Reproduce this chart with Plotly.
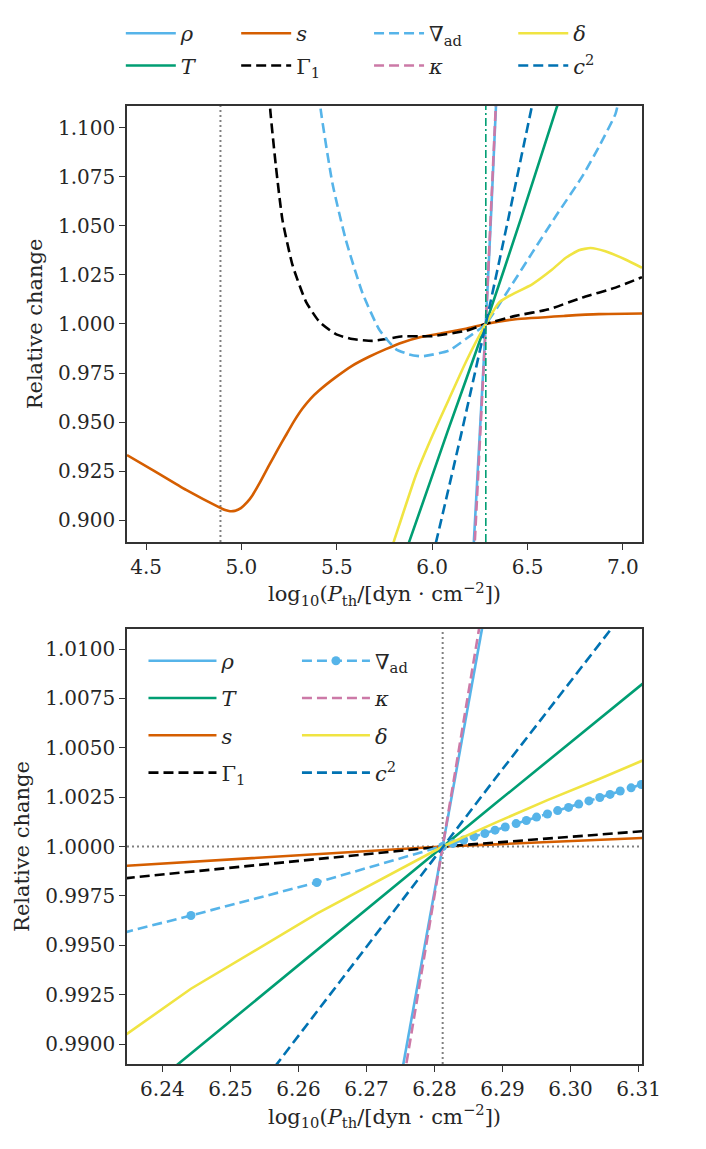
import plotly.graph_objects as go

# ---- top panel: full range, one x/y list per quantity ----
rho_top_x = [6.214, 6.219, 6.250, 6.281, 6.308, 6.334, 6.337]
rho_top_y = [0.880, 0.890, 0.945, 1.000, 1.054, 1.110, 1.116]

T_top_x = [5.860, 5.883, 6.080, 6.281, 6.470, 6.652, 6.670]
T_top_y = [0.884, 0.890, 0.945, 1.000, 1.055, 1.110, 1.115]

s_top_x = [4.400, 4.535, 4.710, 4.884, 4.915, 4.940, 4.965, 4.997, 5.030, 5.058, 5.100,
           5.146, 5.190, 5.233, 5.276, 5.320, 5.363, 5.407, 5.495, 5.582, 5.669, 5.757,
           5.844, 5.931, 6.050, 6.176, 6.281, 6.437, 6.697, 6.874, 7.100]
s_top_y = [0.9332, 0.9256, 0.9155, 0.9066, 0.9052, 0.9046, 0.9048, 0.9062, 0.9092, 0.9128, 0.9198,
           0.9282, 0.9360, 0.9433, 0.9505, 0.9569, 0.9620, 0.9661, 0.9729, 0.9788, 0.9833, 0.9872,
           0.9906, 0.9931, 0.9952, 0.9976, 1.0000, 1.0024, 1.0041, 1.0050, 1.0053]

gamma1_top_x = [5.140, 5.152, 5.181, 5.215, 5.268, 5.338, 5.407, 5.495, 5.582, 5.687,
                5.757, 5.844, 5.931, 6.000, 6.176, 6.281, 6.437, 6.612, 6.786, 6.961, 7.100]
gamma1_top_y = [1.125, 1.1079, 1.080, 1.053, 1.0299, 1.0114, 1.0013, 0.9948, 0.9923, 0.9914,
                0.9923, 0.9937, 0.9937, 0.9938, 0.9965, 1.0000, 1.0041, 1.0075, 1.0134, 1.0185, 1.0238]

nabla_top_x = [5.400, 5.416, 5.477, 5.547, 5.634, 5.722, 5.809, 5.880, 5.947, 6.087,
               6.176, 6.281, 6.402, 6.524, 6.647, 6.786, 6.874, 6.961, 6.980]
nabla_top_y = [1.125, 1.1088, 1.0716, 1.0429, 1.0159, 0.9972, 0.9872, 0.9845, 0.9835, 0.9864,
               0.9923, 1.0000, 1.0176, 1.0362, 1.0547, 1.0750, 1.0902, 1.1070, 1.1150]

kappa_top_x = [6.220, 6.224, 6.253, 6.281, 6.307, 6.333, 6.336]
kappa_top_y = [0.882, 0.890, 0.946, 1.000, 1.055, 1.110, 1.116]

delta_top_x = [5.780, 5.802, 5.828, 5.915, 6.002, 6.089, 6.176, 6.281, 6.350, 6.402,
               6.524, 6.629, 6.699, 6.769, 6.830, 6.908, 7.013, 7.100]
delta_top_y = [0.8830, 0.8902, 0.8978, 0.9231, 0.9433, 0.9619, 0.9805, 1.0000, 1.0109, 1.0142,
               1.0202, 1.0277, 1.0336, 1.0375, 1.0387, 1.0370, 1.0328, 1.0286]

c2_top_x = [6.000, 6.023, 6.150, 6.281, 6.400, 6.521, 6.530]
c2_top_y = [0.881, 0.890, 0.943, 1.000, 1.054, 1.110, 1.114]

# ---- bottom panel: zoom around the reference point ----
zoom_x = [6.2257, 6.2442, 6.2627, 6.2812, 6.2889, 6.2966, 6.3043, 6.3119]
rho_zoom = [0.89422, 0.92948, 0.96474, 1.0, 1.01468, 1.02935, 1.04403, 1.05852]
T_zoom = [0.98429, 0.98953, 0.99476, 1.0, 1.00216, 1.00432, 1.00648, 1.00861]
s_zoom = [0.99884, 0.99923, 0.99961, 1.0, 1.00011, 1.00023, 1.00034, 1.00045]
gamma1_zoom = [0.99809, 0.99872, 0.99936, 1.0, 1.00020, 1.00041, 1.00061, 1.00081]
kappa_zoom = [0.88567, 0.92378, 0.96189, 1.0, 1.01586, 1.03172, 1.04759, 1.06324]
delta_zoom = [0.98830, 0.99280, 0.99660, 1.0, 1.00120, 1.00235, 1.00343, 1.00455]
c2_zoom = [0.97497, 0.98331, 0.99166, 1.0, 1.00343, 1.00685, 1.01028, 1.01366]

nabla_zoom_x = [6.2257, 6.2442, 6.2627, 6.2812, 6.2827, 6.2843, 6.2858, 6.2874, 6.2889,
                6.2904, 6.2920, 6.2935, 6.2950, 6.2966, 6.2981, 6.2997, 6.3012, 6.3027,
                6.3043, 6.3058, 6.3073, 6.3089, 6.3104]
nabla_zoom_y = [0.99488, 0.99651, 0.99818, 1.0, 1.00016, 1.00033, 1.00050, 1.00066, 1.00083,
                1.00099, 1.00116, 1.00132, 1.00149, 1.00165, 1.00182, 1.00198, 1.00215, 1.00231,
                1.00248, 1.00264, 1.00281, 1.00297, 1.00314]

p_mark = 4.89      # dotted line, top panel
p_ref = 6.2812     # reference pressure (dash-dot top, dotted bottom)

FONT = "DejaVu Serif"
FS_TICK = 20
FS_TITLE = 21
FS_LEG = 21
TXT = "#262626"
LW = 2.6
DASH = "10px,5px"

styles = {
    "rho":    dict(name="<i>ρ</i>", color="#56B4E9", dash="solid"),
    "T":      dict(name="<i>T</i>", color="#009E73", dash="solid"),
    "s":      dict(name="<i>s</i>", color="#D55E00", dash="solid"),
    "gamma1": dict(name="Γ<sub>1</sub>", color="#000000", dash=DASH),
    "nabla":  dict(name="∇<sub>ad</sub>", color="#56B4E9", dash=DASH),
    "kappa":  dict(name="<i>κ</i>", color="#CC79A7", dash=DASH),
    "delta":  dict(name="<i>δ</i>", color="#F0E442", dash="solid"),
    "c2":     dict(name="<i>c</i><sup>2</sup>", color="#0072B2", dash=DASH),
}

# legend columns: top panel has 4 columns of 2, bottom has 2 columns of 4
top_cols = [["rho", "T"], ["s", "gamma1"], ["nabla", "kappa"], ["delta", "c2"]]
bot_cols = [["rho", "T", "s", "gamma1"], ["nabla", "kappa", "delta", "c2"]]
top_col_x = [-0.012, 0.212, 0.470, 0.750]
bot_col_x = [0.032, 0.330]

top_data = {
    "rho": (rho_top_x, rho_top_y), "T": (T_top_x, T_top_y), "s": (s_top_x, s_top_y),
    "gamma1": (gamma1_top_x, gamma1_top_y), "nabla": (nabla_top_x, nabla_top_y),
    "kappa": (kappa_top_x, kappa_top_y), "delta": (delta_top_x, delta_top_y),
    "c2": (c2_top_x, c2_top_y),
}
bot_data = {
    "rho": (zoom_x, rho_zoom), "T": (zoom_x, T_zoom), "s": (zoom_x, s_zoom),
    "gamma1": (zoom_x, gamma1_zoom), "nabla": (nabla_zoom_x, nabla_zoom_y),
    "kappa": (zoom_x, kappa_zoom), "delta": (zoom_x, delta_zoom), "c2": (zoom_x, c2_zoom),
}
draw_order = ["rho", "T", "s", "gamma1", "nabla", "kappa", "delta", "c2"]


def legend_of(key, cols, first):
    for i, col in enumerate(cols):
        if key in col:
            n = first + i
            return ("legend" if n == 1 else f"legend{n}"), col.index(key) + 1


fig = go.Figure()

for key in draw_order:
    st = styles[key]
    x, y = top_data[key]
    lg, rank = legend_of(key, top_cols, 1)
    fig.add_trace(go.Scatter(
        x=x, y=y, mode="lines", name=st["name"], legend=lg, legendrank=rank,
        legendgroup="top_" + key,
        line=dict(color=st["color"], width=LW, dash=st["dash"], shape="spline", smoothing=0.5),
        xaxis="x", yaxis="y",
    ))

for key in draw_order:
    st = styles[key]
    x, y = bot_data[key]
    lg, rank = legend_of(key, bot_cols, 5)
    fig.add_trace(go.Scatter(
        x=x, y=y, mode="lines+markers" if key == "nabla" else "lines",
        name=st["name"], legend=lg, legendrank=rank, legendgroup="bot_" + key,
        line=dict(color=st["color"], width=LW, dash=st["dash"]),
        marker=dict(size=9, color=st["color"]),
        xaxis="x2", yaxis="y2",
    ))

# reference lines
fig.add_shape(type="line", xref="x", yref="y domain", x0=p_mark, x1=p_mark, y0=0, y1=1,
              line=dict(color="gray", width=2, dash="2px,3px"), layer="below")
fig.add_shape(type="line", xref="x", yref="y domain", x0=p_ref, x1=p_ref, y0=0, y1=1,
              line=dict(color="#009E73", width=1.6, dash="8px,3px,2px,3px"), layer="above")
fig.add_shape(type="line", xref="x2", yref="y2 domain", x0=p_ref, x1=p_ref, y0=0, y1=1,
              line=dict(color="gray", width=2, dash="2px,3px"), layer="below")
fig.add_shape(type="line", xref="x2 domain", yref="y2", x0=0, x1=1, y0=1.0, y1=1.0,
              line=dict(color="gray", width=2, dash="2px,3px"), layer="below")

axis_common = dict(
    showline=True, linecolor="#333333", linewidth=1.6, mirror=True,
    ticks="outside", ticklen=6, tickwidth=1.4, tickcolor="#333333",
    showgrid=False, zeroline=False,
    tickfont=dict(family=FONT, size=FS_TICK, color=TXT),
    title_font=dict(family=FONT, size=FS_TITLE, color=TXT),
)
xtitle = "log<sub>10</sub>(<i>P</i><sub>th</sub>/[dyn · cm<sup>−2</sup>])"

legends = {}
for i, xpos in enumerate(top_col_x):
    n = 1 + i
    legends["legend" if n == 1 else f"legend{n}"] = dict(
        orientation="v", x=xpos, xanchor="left", y=1.097, yanchor="top",
        bgcolor="rgba(0,0,0,0)", font=dict(family=FONT, size=FS_LEG, color=TXT),
        tracegroupgap=2, itemwidth=50)
for i, xpos in enumerate(bot_col_x):
    n = 5 + i
    legends[f"legend{n}"] = dict(
        orientation="v", x=xpos, xanchor="left", y=0.442, yanchor="top",
        bgcolor="rgba(0,0,0,0)", font=dict(family=FONT, size=FS_LEG, color=TXT),
        tracegroupgap=7, itemwidth=68)

# the page adds an 8px body margin, so the figure is 8px smaller than the window
fig.update_layout(
    width=698, height=1141,
    margin=dict(l=119, r=64, t=98, b=85, autoexpand=False),
    plot_bgcolor="white", paper_bgcolor="white",
    font=dict(family=FONT, size=FS_TICK, color=TXT),
    xaxis=dict(axis_common, domain=[0, 1], anchor="y", range=[4.4, 7.1],
               tick0=4.5, dtick=0.5, tickformat=".1f", title=dict(text=xtitle, standoff=0)),
    yaxis=dict(axis_common, domain=[0.545, 1], anchor="x", range=[0.889, 1.111],
               tick0=0.9, dtick=0.025, tickformat=".3f", title=dict(text="Relative change", standoff=10)),
    xaxis2=dict(axis_common, domain=[0, 1], anchor="y2", range=[6.2348, 6.3105],
                tick0=6.24, dtick=0.01, tickformat=".2f", title=dict(text=xtitle, standoff=0)),
    yaxis2=dict(axis_common, domain=[0, 0.454], anchor="x2", range=[0.98899, 1.01101],
                tick0=0.99, dtick=0.0025, tickformat=".4f", title=dict(text="Relative change", standoff=10)),
    showlegend=True,
    **legends,
)

fig.write_html("out.html")
